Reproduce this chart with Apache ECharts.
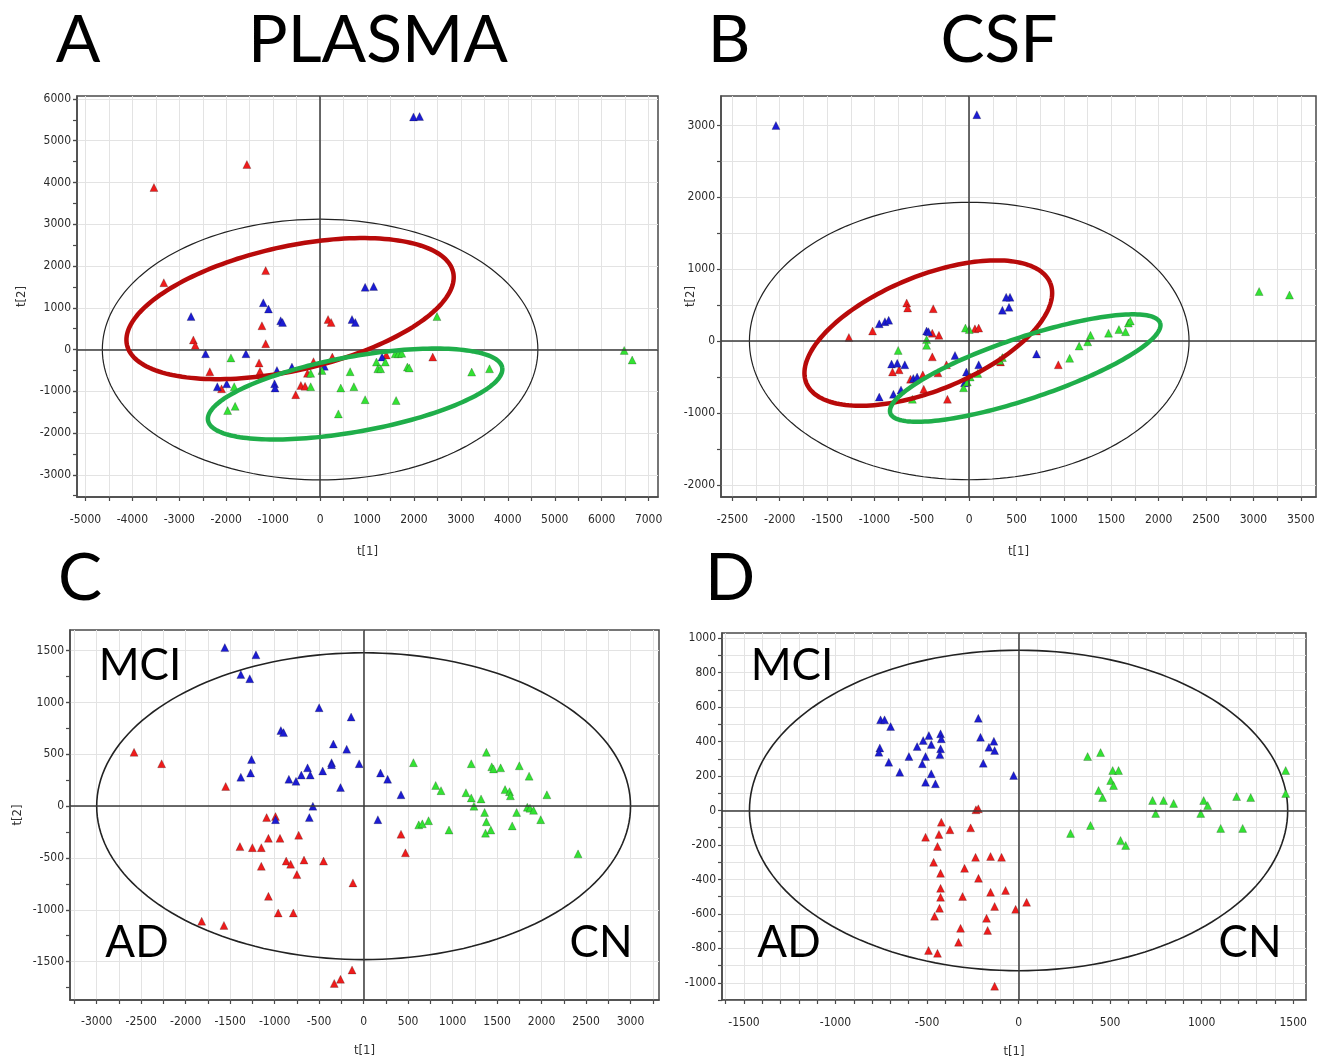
<!DOCTYPE html>
<html>
<head>
<meta charset="utf-8">
<title>PLASMA / CSF score plots</title>
<script src="https://cdn.jsdelivr.net/npm/echarts@6/dist/echarts.min.js"></script>
<style>
html, body { margin: 0; padding: 0; background: #fff; }
#main { width: 1322px; height: 1059px; }
</style>
</head>
<body>
<div id="main"></div>
<script>
// ---- panel A : PLASMA (t[1], t[2]) ----
var aRed = [[-3540,3880],[-1560,4430],[-3330,1600],[-1160,1890],[170,720],[235,650],[-1240,570],[-1160,140],
  [-2700,230],[-2660,100],[-2350,-530],[-2100,-940],[-1300,-320],[-1280,-520],[-520,-1080],[-410,-860],
  [-320,-880],[-270,-570],[-140,-290],[260,-180],[1410,-130],[2400,-180]];
var aBlue = [[1990,5570],[2120,5580],[-2750,790],[-1210,1120],[-1100,970],[-840,690],[-800,650],[960,1490],
  [1140,1510],[680,720],[750,650],[-2440,-100],[-1580,-100],[-2190,-890],[-1990,-820],[-970,-820],
  [-960,-920],[-920,-500],[-600,-420],[90,-400],[1320,-180]];
var aGreen = [[-1900,-200],[-1830,-890],[-1970,-1460],[-1810,-1360],[-200,-570],[-200,-890],[40,-500],
  [390,-1540],[440,-920],[640,-530],[720,-890],[960,-1200],[1200,-300],[1230,-460],[1290,-460],[1390,-300],
  [1600,-100],[1670,-100],[1740,-90],[1620,-1220],[1860,-420],[1900,-440],[2490,790],[3230,-540],
  [3610,-460],[6480,-20],[6650,-250]];

// ---- panel B : CSF ----
var bRed = [[-660,530],[-650,460],[-380,450],[-1270,50],[-1020,140],[-390,110],[-320,80],[-390,-220],
  [-810,-430],[-740,-400],[-620,-530],[-490,-470],[-480,-670],[-330,-440],[-240,-330],[-230,-810],
  [60,170],[100,180],[710,140],[330,-290],[940,-330]];
var bBlue = [[-2040,3000],[80,3150],[430,610],[390,610],[350,430],[420,470],[-950,240],[-890,270],
  [-850,290],[-450,140],[-430,130],[-820,-320],[-760,-310],[-680,-330],[-590,-520],[-550,-500],
  [-950,-780],[-800,-740],[-720,-680],[-150,-200],[-30,-430],[-50,-580],[100,-330],[710,-180]];
var bGreen = [[3060,690],[3380,640],[-40,180],[0,160],[-450,20],[-450,-60],[-750,-130],[-600,-810],
  [-60,-650],[-20,-570],[10,-500],[90,-450],[320,-270],[350,-230],[1060,-240],[1160,-70],[1250,-10],
  [1280,80],[1470,110],[1580,160],[1650,130],[1680,250],[1700,280]];

// ---- panel C ----
var cRed = [[-2580,520],[-2270,410],[-1550,190],[-1090,-110],[-990,-100],[-1070,-310],[-940,-310],
  [-730,-280],[-1390,-390],[-1250,-400],[-1150,-400],[-1150,-580],[-870,-530],[-820,-560],[-670,-520],
  [-450,-530],[-750,-660],[-120,-740],[-1070,-870],[-960,-1030],[-790,-1030],[-1820,-1110],
  [-1570,-1150],[-130,-1580],[-330,-1710],[-260,-1670],[420,-270],[470,-450]];
var cBlue = [[-1560,1530],[-1210,1460],[-1380,1270],[-1280,1230],[-500,950],[-140,860],[-930,730],
  [-900,710],[-340,600],[-190,550],[-50,410],[-1260,450],[-1380,280],[-1270,320],[-840,260],[-760,240],
  [-700,300],[-630,370],[-600,300],[-460,340],[-360,420],[-360,400],[-260,180],[-570,0],[-990,-130],
  [-610,-110],[160,-130],[190,320],[270,260],[420,110]];
var cGreen = [[560,420],[810,200],[870,150],[1150,130],[1210,80],[1320,70],[1240,0],[1210,410],
  [1380,520],[1440,380],[1460,360],[1540,370],[1750,390],[1860,290],[1590,160],[1640,140],[1650,100],
  [2060,110],[1360,-60],[1380,-150],[1370,-260],[1430,-230],[1720,-60],[1670,-190],[1840,-10],
  [1870,-20],[1910,-40],[1990,-130],[620,-180],[660,-170],[730,-140],[960,-230],[2410,-460]];

// ---- panel D ----
var dRed = [[-233,4],[-220,10],[-422,-68],[-375,-112],[-262,-101],[-435,-139],[-508,-155],[-443,-209],
  [-464,-301],[-426,-365],[-426,-452],[-426,-504],[-432,-568],[-459,-614],[-295,-336],[-235,-272],
  [-219,-394],[-153,-267],[-93,-272],[-153,-475],[-131,-557],[-71,-464],[-16,-574],[44,-533],
  [-306,-499],[-175,-626],[-169,-696],[-317,-684],[-328,-765],[-492,-812],[-443,-829],[-131,-1020]];
var dBlue = [[-754,526],[-732,526],[-699,487],[-758,363],[-763,338],[-709,280],[-649,222],[-599,313],
  [-554,371],[-526,271],[-508,313],[-521,406],[-490,435],[-477,383],[-508,164],[-477,213],[-454,155],
  [-426,445],[-422,416],[-426,358],[-430,325],[-220,535],[-208,425],[-193,274],[-162,367],[-135,402],
  [-131,348],[-27,203]];
var dGreen = [[377,313],[448,336],[514,232],[546,232],[437,116],[459,75],[503,174],[519,145],[284,-133],
  [393,-87],[557,-174],[585,-203],[732,58],[749,-17],[792,58],[847,41],[995,-17],[1011,58],[1033,29],
  [1104,-104],[1191,81],[1224,-104],[1268,75],[1459,232],[1459,99]];

// ellipses: [centre x, centre y, semi-axis u (x,y), semi-axis v (x,y)]
var aHotelling = [[0,0,4640,0,0,3120]];
var aRedRing = [[-640,980,3475,871,-288,1447]];
var aGreenRing = [[746,-1065,3134,634,-143,885]];
var bHotelling = [[0,0,2320,0,0,1930]];
var bRedRing = [[-432,111,1287,696,-229,734]];
var bGreenRing = [[591,-376,1424,627,-102,407]];
var cHotelling = [[0,0,3000,0,0,1480]];
var dHotelling = [[0,0,1470,0,0,930]];

// axis ranges, ticks, labels
var aXRange = [-5180, 7200], aYRange = [-3530, 6070];
var aXTicks = [-5000,-4500,-4000,-3500,-3000,-2500,-2000,-1500,-1000,-500,0,500,1000,1500,2000,2500,3000,3500,4000,4500,5000,5500,6000,6500,7000];
var aXLabels = [-5000,-4000,-3000,-2000,-1000,0,1000,2000,3000,4000,5000,6000,7000];
var aYLabels = [-3000,-2000,-1000,0,1000,2000,3000,4000,5000,6000];
var aYMinor = [-3500,-3000,-2500,-2000,-1500,-1000,-500,0,500,1000,1500,2000,2500,3000,3500,4000,4500,5000,5500,6000];

var bXRange = [-2620, 3660], bYRange = [-2170, 3410];
var bXTicks = [-2500,-2250,-2000,-1750,-1500,-1250,-1000,-750,-500,-250,0,250,500,750,1000,1250,1500,1750,2000,2250,2500,2750,3000,3250,3500];
var bXLabels = [-2500,-2000,-1500,-1000,-500,0,500,1000,1500,2000,2500,3000,3500];
var bYTicks = [-2000,-1500,-1000,-500,0,500,1000,1500,2000,2500,3000];
var bYLabels = [-2000,-1000,0,1000,2000,3000];

var cXRange = [-3300, 3320], cYRange = [-1870, 1700];
var cXTicks = [-3250,-3000,-2750,-2500,-2250,-2000,-1750,-1500,-1250,-1000,-750,-500,-250,0,250,500,750,1000,1250,1500,1750,2000,2250,2500,2750,3000,3250];
var cXLabels = [-3000,-2500,-2000,-1500,-1000,-500,0,500,1000,1500,2000,2500,3000];
var cYLabels = [-1500,-1000,-500,0,500,1000,1500];
var cYMinor = [-1750,-1500,-1250,-1000,-750,-500,-250,0,250,500,750,1000,1250,1500];

var dXRange = [-1620, 1570], dYRange = [-1100, 1030];
var dXTicks = [-1600,-1500,-1400,-1300,-1200,-1100,-1000,-900,-800,-700,-600,-500,-400,-300,-200,-100,0,100,200,300,400,500,600,700,800,900,1000,1100,1200,1300,1400,1500];
var dXLabels = [-1500,-1000,-500,0,500,1000,1500];
var dYTicks = [-1100,-1000,-900,-800,-700,-600,-500,-400,-300,-200,-100,0,100,200,300,400,500,600,700,800,900,1000];
var dYLabels = [-1000,-800,-600,-400,-200,0,200,400,600,800,1000];

var TICK_FONT = "'Liberation Sans Narrow','DejaVu Sans Condensed','Liberation Sans',sans-serif";
var BIG_FONT = "Lato, 'Open Sans', sans-serif";
var RED = '#ee1c1c', BLUE = '#1c1cd2', GREEN = '#33e233';

var chart = echarts.init(document.getElementById('main'));

function axis(grid, range, ticks, labels, o) {
    return {
        type: 'value', gridIndex: grid, min: range[0], max: range[1], position: o.pos,
        name: o.name || '', nameLocation: 'middle', nameGap: o.nameGap || 0, nameMoveOverlap: false,
        nameTextStyle: { fontFamily: TICK_FONT, fontSize: 13, color: '#333' },
        axisLine: { show: true, onZero: false, lineStyle: { color: '#4a4a4a', width: 1.5 } },
        axisTick: { show: true, length: 4, customValues: ticks, lineStyle: { color: '#4a4a4a', width: 1.2 } },
        axisLabel: { customValues: labels, margin: o.margin, fontFamily: TICK_FONT, fontSize: 12, color: '#2a2a2a',
            formatter: function (v) { return String(v); } },
        splitLine: { show: true, lineStyle: { color: '#e3e3e3', width: 1 } }
    };
}
// tick-only axis for the minor ticks, laid over the main left axis
function minorAxis(grid, range, ticks) {
    return {
        type: 'value', gridIndex: grid, min: range[0], max: range[1], position: 'left', offset: 0,
        axisLine: { show: false, onZero: false }, axisLabel: { show: false }, splitLine: { show: false },
        axisTick: { show: true, length: 4, customValues: ticks, lineStyle: { color: '#4a4a4a', width: 1.2 } }
    };
}

function ring(xi, yi, data, color, width, z) {
    return {
        type: 'custom', xAxisIndex: xi, yAxisIndex: yi, data: data, z: z, silent: true,
        renderItem: function (params, api) {
            var cx = api.value(0), cy = api.value(1);
            var c = api.coord([cx, cy]);
            var pu = api.coord([cx + api.value(2), cy + api.value(3)]);
            var pv = api.coord([cx + api.value(4), cy + api.value(5)]);
            var pts = [];
            for (var i = 0; i <= 180; i++) {
                var t = i / 180 * Math.PI * 2;
                pts.push([c[0] + Math.cos(t) * (pu[0] - c[0]) + Math.sin(t) * (pv[0] - c[0]),
                          c[1] + Math.cos(t) * (pu[1] - c[1]) + Math.sin(t) * (pv[1] - c[1])]);
            }
            return { type: 'polyline', shape: { points: pts },
                     style: { stroke: color, lineWidth: width, fill: null } };
        }
    };
}

function dots(xi, yi, data, color, cross) {
    var s = {
        type: 'scatter', xAxisIndex: xi, yAxisIndex: yi, data: data, z: 4,
        symbol: 'triangle', symbolSize: 8, silent: true,
        itemStyle: { color: color, borderColor: 'rgba(0,0,0,0.35)', borderWidth: 0.6, opacity: 1 }
    };
    if (cross) {
        s.markLine = {
            silent: true, symbol: ['none', 'none'], label: { show: false }, animation: false,
            lineStyle: { color: '#3a3a3a', width: 1.5, type: 'solid' },
            data: [{ xAxis: 0 }, { yAxis: 0 }]
        };
    }
    return s;
}

function txt(x, y, s, size) {
    return { type: 'text', x: x, y: y, z: 100, silent: true,
        style: { text: s, font: 'normal ' + size + 'px ' + BIG_FONT, fill: '#000',
                 textAlign: 'center', textVerticalAlign: 'middle' } };
}

var gridBox = { show: true, borderColor: '#4a4a4a', borderWidth: 1.5, backgroundColor: '#fff', containLabel: false };

chart.setOption({
    animation: false,
    grid: [
        Object.assign({ left: 77, top: 96, width: 581, height: 401 }, gridBox),
        Object.assign({ left: 721, top: 96, width: 595, height: 401 }, gridBox),
        Object.assign({ left: 70, top: 630, width: 589, height: 370 }, gridBox),
        Object.assign({ left: 722, top: 633, width: 584, height: 367 }, gridBox)
    ],
    xAxis: [
        axis(0, aXRange, aXTicks, aXLabels, { name: 't[1]', nameGap: 48, margin: 17, pos: 'bottom' }),
        axis(1, bXRange, bXTicks, bXLabels, { name: 't[1]', nameGap: 48, margin: 17, pos: 'bottom' }),
        axis(2, cXRange, cXTicks, cXLabels, { name: 't[1]', nameGap: 44, margin: 16, pos: 'bottom' }),
        axis(3, dXRange, dXTicks, dXLabels, { name: 't[1]', nameGap: 45, margin: 17, pos: 'bottom' })
    ],
    yAxis: [
        axis(0, aYRange, aYLabels, aYLabels, { name: 't[2]', nameGap: 49, margin: 6, pos: 'left' }),
        axis(1, bYRange, bYTicks, bYLabels, { name: 't[2]', nameGap: 24, margin: 6, pos: 'left' }),
        axis(2, cYRange, cYLabels, cYLabels, { name: 't[2]', nameGap: 46, margin: 6, pos: 'left' }),
        axis(3, dYRange, dYTicks, dYLabels, { margin: 6, pos: 'left' }),
        minorAxis(0, aYRange, aYMinor),
        minorAxis(2, cYRange, cYMinor)
    ],
    series: [
        ring(0, 0, aHotelling, '#222', 1.2, 2),
        dots(0, 0, aRed, RED, true), dots(0, 0, aBlue, BLUE), dots(0, 0, aGreen, GREEN),
        ring(0, 0, aRedRing, '#b80a0a', 4.5, 6),
        ring(0, 0, aGreenRing, '#1fae4a', 4.5, 6),

        ring(1, 1, bHotelling, '#222', 1.2, 2),
        dots(1, 1, bRed, RED, true), dots(1, 1, bBlue, BLUE), dots(1, 1, bGreen, GREEN),
        ring(1, 1, bRedRing, '#b80a0a', 4.5, 6),
        ring(1, 1, bGreenRing, '#1fae4a', 4.5, 6),

        ring(2, 2, cHotelling, '#222', 1.6, 2),
        dots(2, 2, cRed, RED, true), dots(2, 2, cBlue, BLUE), dots(2, 2, cGreen, GREEN),

        ring(3, 3, dHotelling, '#222', 1.6, 2),
        dots(3, 3, dRed, RED, true), dots(3, 3, dBlue, BLUE), dots(3, 3, dGreen, GREEN)
    ],
    graphic: [
        txt(78, 41, 'A', 66), txt(378, 41, 'PLASMA', 66),
        txt(729, 41, 'B', 66), txt(999, 41, 'CSF', 66),
        txt(80, 579, 'C', 66), txt(730, 579, 'D', 66),
        txt(140, 666, 'MCI', 44), txt(137, 943, 'AD', 44), txt(601, 943, 'CN', 44),
        txt(792, 666, 'MCI', 44), txt(789, 943, 'AD', 44), txt(1250, 943, 'CN', 44)
    ]
});
</script>
</body>
</html>
